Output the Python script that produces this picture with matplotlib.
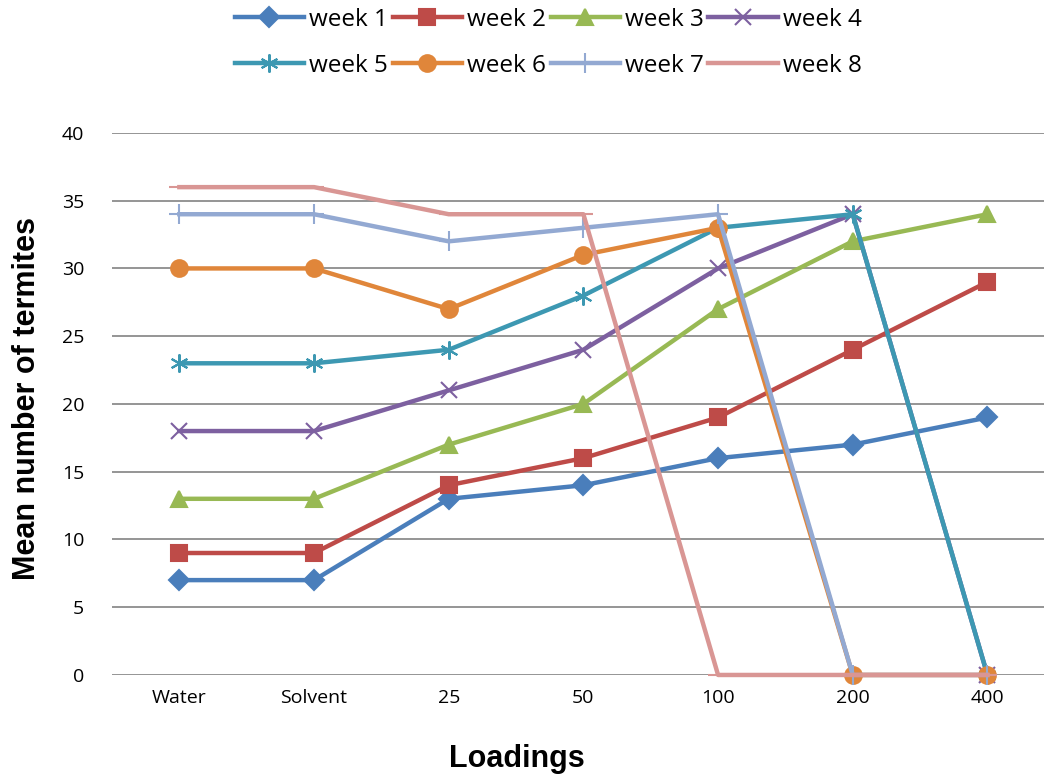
import matplotlib.pyplot as plt

loadings = ["Water", "Solvent", "25", "50", "100", "200", "400"]
week1 = [7, 7, 13, 14, 16, 17, 19]
week2 = [9, 9, 14, 16, 19, 24, 29]
week3 = [13, 13, 17, 20, 27, 32, 34]
week4 = [18, 18, 21, 24, 30, 34, 0]
week5 = [23, 23, 24, 28, 33, 34, 0]
week6 = [30, 30, 27, 31, 33, 0, 0]
week7 = [34, 34, 32, 33, 34, 0, 0]
week8 = [36, 36, 34, 34, 0, 0, 0]

series = [
    ("week 1", week1, "#4A7EBB", "D", 10),
    ("week 2", week2, "#BE4B48", "s", 11),
    ("week 3", week3, "#98B954", "^", 12),
    ("week 4", week4, "#7D60A0", "x", 11),
    ("week 5", week5, "#3D98B2", (6, 2, 0), 13),
    ("week 6", week6, "#E0863A", "o", 12),
    ("week 7", week7, "#93A9D2", "+", 14),
    ("week 8", week8, "#D99694", "_", 14),
]

fig = plt.figure(figsize=(10.44, 7.76), dpi=100)
ax = fig.add_axes([0.1073, 0.1302, 0.903, 0.6985])

x = list(range(len(loadings)))
handles = []
for name, vals, col, mk, ms in series:
    h, = ax.plot(x, vals, color=col, lw=3.2, marker=mk, ms=ms, mew=1.5,
                 mec=col, mfc=col, label=name, clip_on=False)
    handles.append(h)

ax.set_xlim(-0.5, len(loadings) - 0.5)
ax.set_ylim(0, 40)
ax.set_yticks(range(0, 41, 5))
ax.set_xticks(x)
ax.set_xticklabels(loadings)
ax.yaxis.grid(True, color="#8c8c8c", lw=1.3)
ax.set_axisbelow(True)
ax.tick_params(length=0, labelsize=14, pad=10)
ax.tick_params(axis="y", pad=20)
for lab in ax.get_xticklabels() + ax.get_yticklabels():
    lab.set_family("Open Sans")
for s in ax.spines.values():
    s.set_visible(False)

ax.set_xlabel("Loadings", fontsize=22, fontweight="bold",
              family="Liberation Sans")
ax.xaxis.set_label_coords(0.4295, -0.127)
ax.set_ylabel("Mean number of termites", fontsize=22, fontweight="bold",
              family="Liberation Sans")
ax.yaxis.set_label_coords(-0.074, 0.51)

# legend fills column by column, so interleave to get week 1-4 on top row
order = [0, 4, 1, 5, 2, 6, 3, 7]
fig.legend([handles[i] for i in order], [series[i][0] for i in order],
           loc="upper center", bbox_to_anchor=(0.525, 1.018), ncol=4,
           frameon=False, handlelength=2.85, columnspacing=0.2,
           handletextpad=0.2, labelspacing=0.9,
           prop={"family": "Open Sans", "size": 17.5})

fig.savefig("out.png", dpi=100)
